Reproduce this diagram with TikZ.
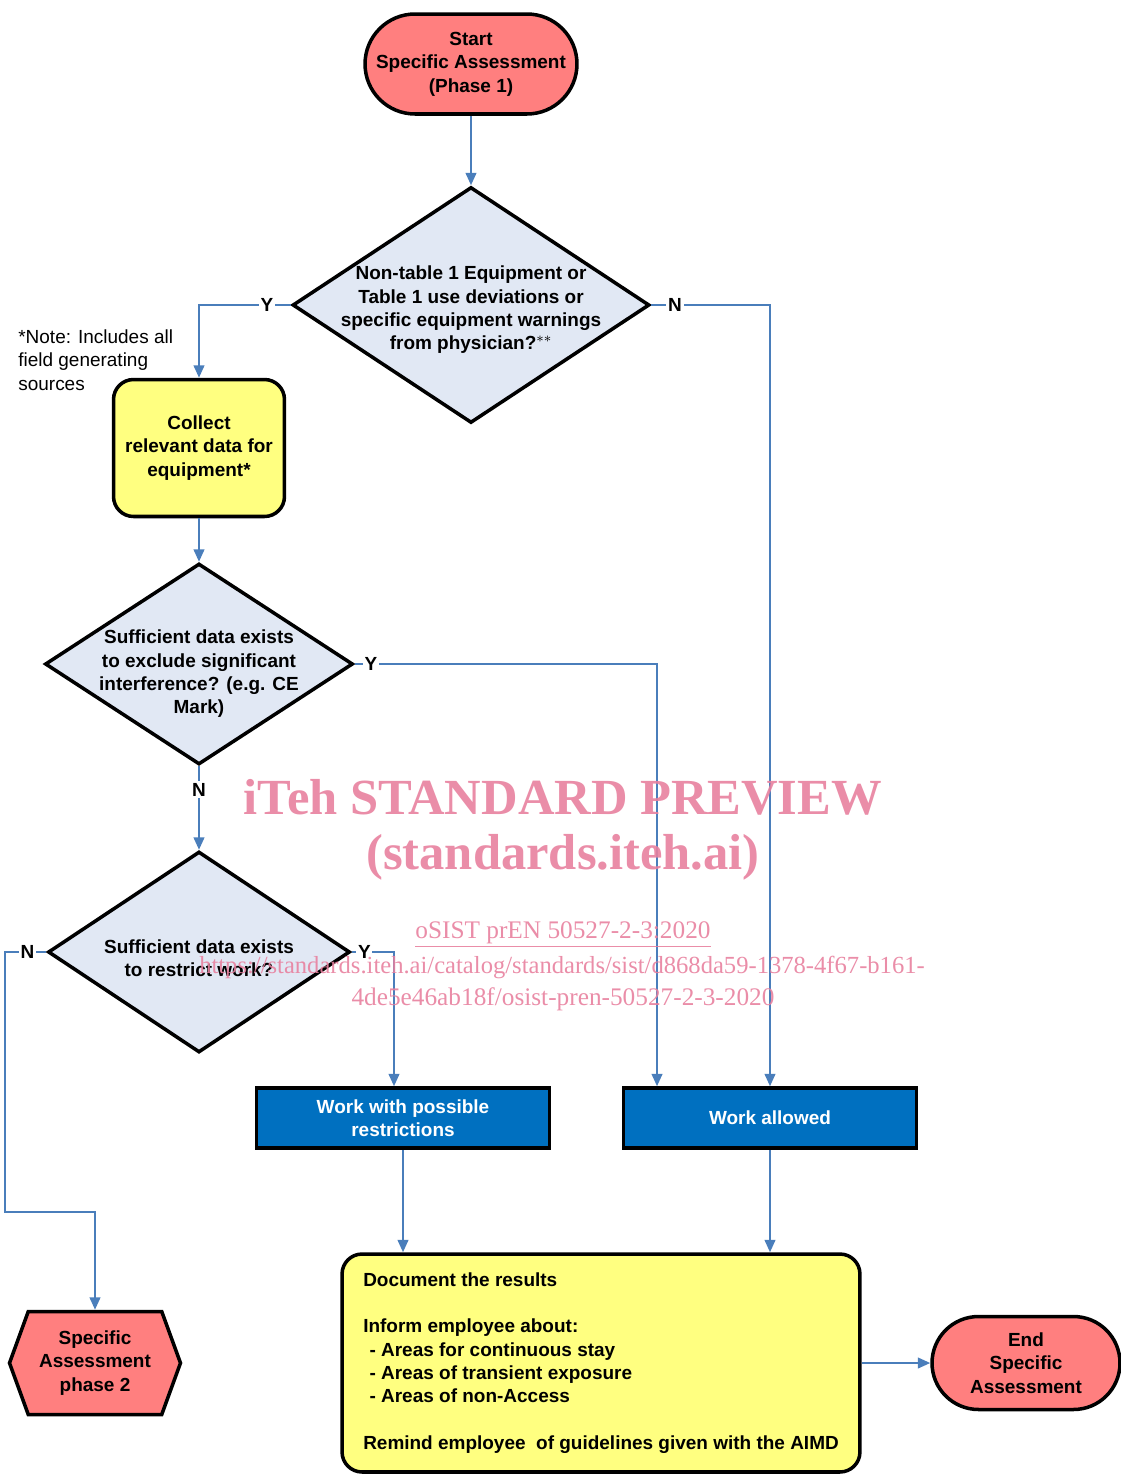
\documentclass[tikz,border=0pt]{standalone}
\usepackage{fontspec}
\setmainfont{Liberation Sans}
\newfontfamily\wmfont{Liberation Serif}
\usetikzlibrary{shapes.geometric,shapes.symbols,arrows.meta}

\definecolor{salmon}{HTML}{FF7F7F}
\definecolor{paleblue}{HTML}{E1E8F4}
\definecolor{paleyellow}{HTML}{FFFF80}
\definecolor{boxblue}{HTML}{0070C0}
\definecolor{linkblue}{HTML}{4A7EBB}
\definecolor{wmpink}{HTML}{E8819F}

\newcommand{\boxfont}{\fontsize{10.8}{13.3}\selectfont\bfseries}

\tikzset{
  terminal/.style={draw=black, line width=2pt, fill=salmon, align=center, font=\boxfont},
  decision/.style={diamond, draw=black, line width=2pt, fill=paleblue, inner sep=0pt},
  dtext/.style={align=center, font=\boxfont},
  process/.style={draw=black, line width=2pt, fill=paleyellow, rounded corners=0.4cm, font=\boxfont},
  outcome/.style={draw=black, line width=2pt, fill=boxblue, text=white, align=center, font=\boxfont,
    minimum width=5.86cm, minimum height=1.2cm},
  flow/.style={draw=linkblue, line width=1.2pt, -{Triangle[length=7pt,width=6pt]}},
  lbl/.style={fill=white, inner sep=1pt, font=\boxfont, text=black},
  wm/.style={text=wmpink, opacity=0.9, font=\wmfont}
}

\begin{document}
\begin{tikzpicture}[x=0.02cm, y=-0.02cm]
\useasboundingbox (0,0) rectangle (1121,1474);

\node[terminal, rounded corners=1cm, minimum width=4.24cm, minimum height=2cm] at (471,64) (start) {Start\\Specific Assessment\\(Phase 1)};

\node[decision, minimum width=7.14cm, minimum height=4.72cm] at (471,305) (q1) {};
\node[dtext] at (471,310) (q1t) {Non-table 1 Equipment or\\Table 1 use deviations or\\specific equipment warnings\\from physician?$^{**}$};

\node[anchor=west, inner sep=0pt, align=left, font=\fontsize{10.8}{13.3}\selectfont] at (18,360) (note) {*Note: Includes all\\field generating\\sources};

\node[process, align=center, minimum width=3.42cm, minimum height=2.74cm] at (199,448) (collect) {Collect\\relevant data for\\equipment*};

\node[decision, minimum width=6.16cm, minimum height=4.02cm] at (199,664) (q2) {};
\node[dtext] at (199,674) (q2t) {Sufficient data exists\\to exclude significant\\interference? (e.g. CE\\Mark)};

\node[decision, minimum width=6.04cm, minimum height=4.02cm] at (199,952) (q3) {};
\node[dtext] at (199,958) (q3t) {Sufficient data exists\\to restrict work?};

\node[outcome] at (403,1118) (restr) {Work with possible\\restrictions};
\node[outcome] at (770,1118) (allowed) {Work allowed};

\node[signal, signal to=west and east, signal pointer angle=140, draw=black, line width=2pt, fill=salmon,
  align=center, font=\boxfont, minimum width=3.42cm, minimum height=2.06cm, inner sep=1pt] at (95,1363) (phase2) {Specific\\Assessment\\phase 2};

\node[process, minimum width=10.36cm, minimum height=4.36cm, align=left] at (601,1363) (doc)
  {Document the results\\[13pt]
   Inform employee about:\\
   \,\,- Areas for continuous stay\\
   \,\,- Areas of transient exposure\\
   \,\,- Areas of non-Access\\[13pt]
   Remind employee \ of guidelines given with the AIMD};

\node[terminal, rounded corners=0.93cm, minimum width=3.76cm, minimum height=1.86cm] at (1026,1363) (end) {End\\Specific\\Assessment};

\draw[flow] (start) -- (q1);
\draw[flow] (q1.west) -| node[lbl, pos=0.13]{Y} (collect.north);
\draw[flow] (q1.east) -| node[lbl, pos=0.1]{N} (allowed.north);
\draw[flow] (collect) -- (q2);
\draw[flow] (q2.east) -| node[lbl, pos=0.027]{Y} ([xshift=-2.26cm]allowed.north);
\draw[flow] (q2.south) -- node[lbl, pos=0.28]{N} (q3.north);
\draw[flow] (q3.east) -| node[lbl, pos=0.15]{Y} ([xshift=-0.18cm]restr.north);
\draw[flow] (q3.west) -- node[lbl, pos=0.46]{N} ++(-41,0) |- ([yshift=1.96cm]phase2.north) -- (phase2.north);
\draw[flow] (restr.south) -- (restr.south |- doc.north);
\draw[flow] (allowed.south) -- (allowed.south |- doc.north);
\draw[flow] (doc.east) -- (end.west);

\node[wm, font=\wmfont\fontsize{28.8}{32}\selectfont\bfseries] at (563,797) (wm1) {iTeh STANDARD PREVIEW};
\node[wm, font=\wmfont\fontsize{28.8}{32}\selectfont\bfseries] at (563,857) (wm2) {(standards.iteh.ai)};
\node[wm, font=\wmfont\fontsize{14.4}{18}\selectfont] at (563,935) (wm3) {\underline{oSIST prEN 50527-2-3:2020}};
\node[wm, font=\wmfont\fontsize{14}{18}\selectfont] at (562,967) (wm4) {https://standards.iteh.ai/catalog/standards/sist/d868da59-1378-4f67-b161-};
\node[wm, font=\wmfont\fontsize{14.4}{18}\selectfont] at (563,999) (wm5) {4de5e46ab18f/osist-pren-50527-2-3-2020};
\end{tikzpicture}
\end{document}
